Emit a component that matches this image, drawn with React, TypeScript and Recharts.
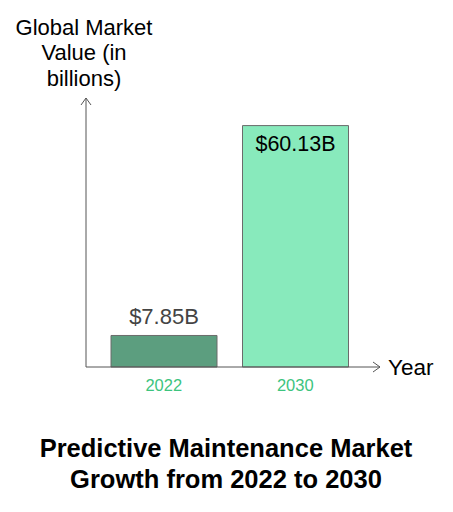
import React from "react";
import { BarChart, Bar, XAxis, YAxis, Cell } from "recharts";

const years = ["2022", "2030"];
const marketValues = [7.85, 60.13];
const valueLabels = ["$7.85B", "$60.13B"];
const barColors = ["#5c9e7f", "#88eabc"];

const data = years.map((y, i) => ({ year: y, value: marketValues[i], label: valueLabels[i] }));

const W = 453;
const H = 512;
const M = { top: 98, right: 73, left: 86, bottom: 115 };
const XH = 30;
const FONT = "'Liberation Sans', Arial, sans-serif";

const renderLabel = (props: any) => {
  const { x, y, width, index } = props;
  const cx = x + width / 2;
  if (index === 0) {
    return (
      <text x={cx} y={y - 11} textAnchor="middle" fill="#444" fontSize={22} fontFamily={FONT}>
        {valueLabels[index]}
      </text>
    );
  }
  return (
    <text x={cx} y={y + 25} textAnchor="middle" fill="#000" fontSize={21.5} fontFamily={FONT}>
      {valueLabels[index]}
    </text>
  );
};

export default function App() {
  const x0 = M.left;
  const yBase = H - M.bottom - XH;
  const xEnd = W - M.right;
  const yTop = M.top;
  return (
    <div style={{ position: "absolute", left: 0, top: 0, width: W, height: H, fontFamily: FONT }}>
      <BarChart width={W} height={H} data={data} margin={M}>
        <YAxis domain={[0, 67]} width={0} tick={false} axisLine={false} tickLine={false} />
        <XAxis
          dataKey="year"
          height={XH}
          axisLine={false}
          tickLine={false}
          padding={{ left: 12, right: 19 }}
          tick={{ fill: "#3dc47e", fontSize: 16.5, fontFamily: FONT }}
          tickMargin={6}
        />
        <Bar dataKey="value" barSize={106} stroke="#6b6b6b" strokeWidth={1} isAnimationActive={false} label={renderLabel}>
          {data.map((d, i) => (
            <Cell key={d.year} fill={barColors[i]} />
          ))}
        </Bar>
      </BarChart>
      <svg width={W} height={H} style={{ position: "absolute", left: 0, top: 0, pointerEvents: "none" }}>
        <g stroke="#555" strokeWidth={1} fill="none">
          <line x1={x0} y1={yBase} x2={x0} y2={yTop} />
          <polyline points={`${x0 - 5},${yTop + 7} ${x0},${yTop} ${x0 + 5},${yTop + 7}`} />
          <line x1={x0} y1={yBase} x2={xEnd} y2={yBase} />
          <polyline points={`${xEnd - 7},${yBase - 5} ${xEnd},${yBase} ${xEnd - 7},${yBase + 5}`} />
        </g>
        <text x={388} y={yBase + 8} fontSize={22.5} fill="#000" fontFamily={FONT}>Year</text>
        <g fontSize={22} fill="#000" fontFamily={FONT} textAnchor="middle">
          <text x={84} y={35}>Global Market</text>
          <text x={84} y={60}>Value (in</text>
          <text x={84} y={86}>billions)</text>
        </g>
        <g fontSize={25.5} fontWeight="bold" fill="#000" fontFamily={FONT} textAnchor="middle">
          <text x={226} y={457}>Predictive Maintenance Market</text>
          <text x={226} y={488}>Growth from 2022 to 2030</text>
        </g>
      </svg>
    </div>
  );
}
